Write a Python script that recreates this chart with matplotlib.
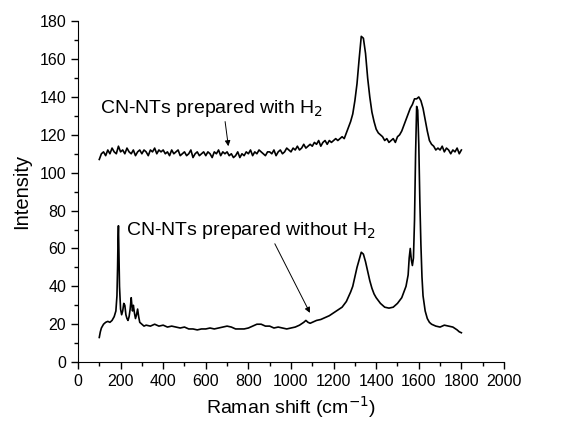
import numpy as np
import matplotlib.pyplot as plt
from matplotlib.ticker import MultipleLocator

plt.rcParams['font.family'] = ['Liberation Sans', 'DejaVu Sans']

# ---- spectrum with H2 (every 10 cm-1 from 100 to 1800) ----
with_x = list(range(100, 1801, 10))
with_y = [
    107, 110, 111, 109, 112, 110, 113, 111, 110, 114,
    111, 112, 110, 113, 111, 110, 112, 109, 111, 112,
    110, 112, 111, 109, 112, 111, 113, 110, 112, 111,
    112, 110, 111, 109, 112, 110, 111, 112, 109, 110,
    111, 109, 110, 112, 108, 110, 111, 109, 110, 111,
    109, 111, 110, 108, 111, 110, 112, 109, 111, 110,
    111, 109, 110, 108, 109, 111, 108, 110, 109, 111,
    110, 112, 109, 111, 110, 112, 111, 110, 109, 111,
    111, 110, 112, 109, 111, 112, 110, 111, 113, 112,
    111, 113, 112, 114, 112, 113, 115, 113, 114, 115,
    114, 116, 115, 117, 114, 116, 117, 115, 117, 116,
    117, 118, 117, 118, 119, 118, 121, 124, 127, 131,
    138, 147, 160, 172, 171, 163, 150, 140, 132, 127,
    123, 121, 120, 119, 117, 118, 116, 117, 118, 116,
    119, 120, 122, 125, 128, 131, 134, 136, 139, 139,
    140, 138, 134, 128, 122, 117, 115, 114, 112, 113,
    112, 114, 111, 113, 112, 110, 112, 111, 113, 110,
    112,
]

# ---- spectrum without H2 ----
without_x = [
    100, 105, 110, 120, 130, 140, 150, 160, 170, 178, 183, 186, 188, 190,
    192, 195, 200, 205, 210, 215, 220, 225, 230, 235, 240, 245, 250, 253,
    256, 260, 265, 270, 275, 280, 285, 290, 300, 310, 320, 340, 360, 380,
    400, 420, 440, 460, 480, 500, 520, 540, 560, 580, 600, 620, 640, 660,
    680, 700, 720, 740, 760, 780, 800, 820, 840, 860, 880, 900, 920, 940,
    960, 980, 1000, 1020, 1040, 1060, 1070, 1080, 1090, 1100, 1120, 1140,
    1160, 1180, 1200, 1220, 1240, 1260, 1280, 1290, 1300, 1310, 1320, 1330,
    1340, 1350, 1360, 1370, 1380, 1390, 1400, 1420, 1440, 1460, 1480, 1500,
    1520, 1540, 1550, 1555, 1560, 1565, 1570, 1575, 1580, 1585, 1590, 1595,
    1600, 1605, 1610, 1615, 1620, 1630, 1640, 1650, 1660, 1680, 1700, 1720,
    1740, 1760, 1780, 1790, 1800,
]
without_y = [
    13, 16, 18, 20, 21, 21.5, 21, 22, 24, 27, 35, 50, 65, 72,
    60, 40, 28, 25, 27, 31, 30, 25, 23, 22, 24, 28, 34, 30,
    27, 30, 26, 23, 25, 28, 24, 21, 20, 19, 19.5, 19, 20, 19,
    19.5, 18.5, 19, 18.5, 18, 18.5, 17.5, 17.5, 17, 17.5, 17.5, 18, 17.5, 18,
    18.5, 19, 18.5, 17.5, 17.5, 17.5, 18, 19, 20, 20, 19, 19, 18, 18.5,
    18, 17.5, 18, 18.5, 19.5, 21, 22, 21, 20.5, 21, 22, 22.5,
    23.5, 24.5, 26, 27.5, 29, 32, 37, 40, 45, 50, 54, 58,
    57, 53, 48, 43, 39, 36, 34, 31, 29, 28.5, 29, 31,
    34, 40, 46, 55, 60, 54, 51, 55, 75, 110, 135, 133,
    115, 85, 62, 45, 35, 27, 23, 21, 20, 19, 18.5, 19.5,
    19, 18.5, 17, 16, 15.5,
]

fig = plt.figure(figsize=(5.65, 4.24), dpi=100)
ax = fig.add_axes([0.138, 0.146, 0.754, 0.804])

ax.plot(with_x, with_y, color='black', lw=1.2)
ax.plot(without_x, without_y, color='black', lw=1.2)

ax.set_xlim(0, 2000)
ax.set_ylim(0, 180)
ax.xaxis.set_major_locator(MultipleLocator(200))
ax.xaxis.set_minor_locator(MultipleLocator(100))
ax.yaxis.set_major_locator(MultipleLocator(20))
ax.yaxis.set_minor_locator(MultipleLocator(10))
ax.tick_params(which='major', length=5, width=1, labelsize=11.5, direction='out')
ax.tick_params(which='minor', length=3, width=1, direction='out')
for s in ['top', 'right']:
    ax.spines[s].set_visible(False)

ax.set_xlabel('Raman shift (cm$^{-1}$)', fontsize=14, labelpad=4)
ax.set_ylabel('Intensity', fontsize=14.5, labelpad=6)

ax.annotate('CN-NTs prepared with H$_2$', xy=(706, 114), xytext=(103, 134),
            fontsize=14, va='center',
            arrowprops=dict(arrowstyle='-|>', color='black', lw=0.7,
                            mutation_scale=8, shrinkA=0, shrinkB=0,
                            relpos=(0.56, 0.0)))
ax.annotate('CN-NTs prepared without H$_2$', xy=(1089, 26), xytext=(225, 69.5),
            fontsize=14, va='center',
            arrowprops=dict(arrowstyle='-|>', color='black', lw=0.7,
                            mutation_scale=8, shrinkA=0, shrinkB=0,
                            relpos=(0.59, 0.0)))

fig.savefig('out.png', dpi=100)
